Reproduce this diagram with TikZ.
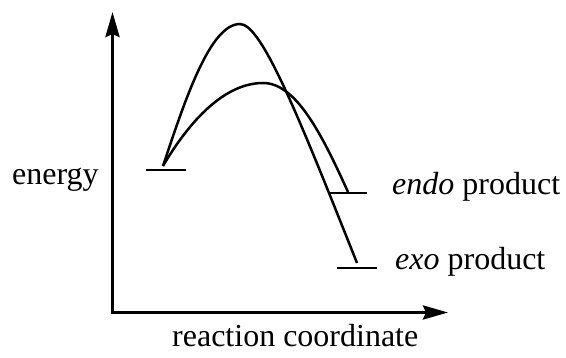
\documentclass[tikz,border=0pt]{standalone}
\usepackage{fontspec}
\setmainfont{Liberation Serif}
\usetikzlibrary{arrows.meta}
\begin{document}
\begin{tikzpicture}[x=1pt,y=-1pt,
  axis/.style={line width=3.2pt,{Stealth[length=25pt,width=14pt,inset=3pt]}-{Stealth[length=25pt,width=14pt,inset=3pt]}},
  curve/.style={line width=2.5pt},
  level/.style={line width=2.5pt},
  lbl/.style={anchor=base west,inner sep=0pt,font=\fontsize{32}{38}\selectfont}]
\useasboundingbox (0,0) rectangle (566,358);
% axes
\coordinate (ytop) at (112.5,12);
\coordinate (origin) at (112.5,312.5);
\coordinate (xend) at (448,312.5);
\draw[axis] (ytop) -- (origin) -- (xend);
% levels
\coordinate (rL) at (146,170); \coordinate (rR) at (186,170);
\coordinate (enL) at (328,193); \coordinate (enR) at (367,193);
\coordinate (exL) at (337,268); \coordinate (exR) at (377,268);
\draw[level] (rL) -- (rR);
\draw[level] (enL) -- (enR);
\draw[level] (exL) -- (exR);
% curves
\coordinate (start) at (163,166);
\coordinate (exoTS) at (240,24);
\coordinate (exoEnd) at (357,263);
\coordinate (endoTS) at (263,83);
\coordinate (endoEnd) at (348,192);
\draw[curve] (start) .. controls (185,100) and (210,24) .. (exoTS)
  .. controls (262,24) and (300,120) .. (exoEnd);
\draw[curve] (start) .. controls (190,120) and (225,83) .. (endoTS)
  .. controls (295,83) and (320,130) .. (endoEnd);
% labels
\node[lbl] (energy) at (12,185) {energy};
\node[lbl] (rc) at (172,347) {reaction coordinate};
\node[lbl] (endo) at (392,195) {\textit{endo} product};
\node[lbl] (exo) at (395,270) {\textit{exo} product};
\end{tikzpicture}
\end{document}
